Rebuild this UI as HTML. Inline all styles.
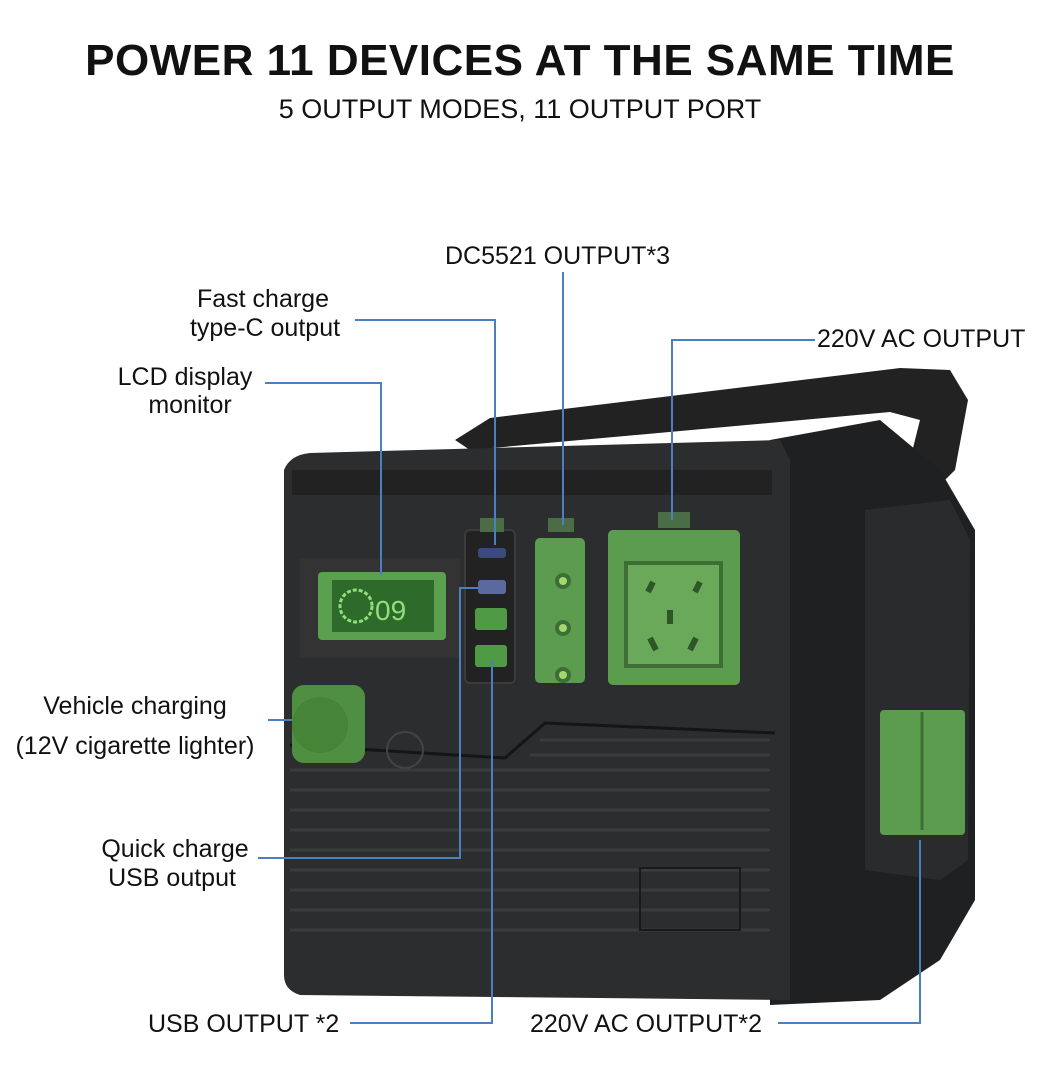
<!DOCTYPE html>
<html><head><meta charset="utf-8"><style>
html,body{margin:0;padding:0;background:#fff;}
body{width:1062px;height:1068px;overflow:hidden;position:relative;font-family:"Liberation Sans",sans-serif;}
.t{position:absolute;color:#111;white-space:nowrap;}
</style></head><body>
<div class="t" style="left:0;width:1040px;text-align:center;top:36px;font-size:44px;letter-spacing:0.5px;font-weight:bold;">POWER 11 DEVICES AT THE SAME TIME</div>
<div class="t" style="left:0;width:1040px;text-align:center;top:94px;font-size:27px;">5 OUTPUT MODES, 11 OUTPUT PORT</div>

<svg width="1062" height="1068" style="position:absolute;left:0;top:0" xmlns="http://www.w3.org/2000/svg">
 <!-- handle -->
 <path d="M455 440 L490 418 L900 368 L950 370 L968 400 L955 470 L925 500 L905 480 L920 420 L890 412 L470 450 Z" fill="#222"/>
 <!-- right side panel -->
 <path d="M770 440 L880 420 L940 470 L975 530 L975 900 L940 960 L880 1000 L770 1005 Z" fill="#1f2021"/>
 <path d="M865 510 L950 500 L970 540 L968 860 L940 880 L865 870 Z" fill="#2a2b2c"/>
 <!-- front body -->
 <path d="M284 470 Q290 455 310 453 L780 440 L790 460 L790 1000 L300 995 Q284 990 284 975 Z" fill="#2c2d2e"/>
 <rect x="292" y="470" width="480" height="25" fill="#222"/>
 <!-- stripes lower -->
 <g stroke="#3a3b3c" stroke-width="3">
  <line x1="290" y1="770" x2="770" y2="770"/><line x1="290" y1="790" x2="770" y2="790"/>
  <line x1="290" y1="810" x2="770" y2="810"/><line x1="290" y1="830" x2="770" y2="830"/>
  <line x1="290" y1="850" x2="770" y2="850"/><line x1="290" y1="870" x2="770" y2="870"/>
  <line x1="290" y1="890" x2="770" y2="890"/><line x1="290" y1="910" x2="770" y2="910"/>
  <line x1="290" y1="930" x2="770" y2="930"/><line x1="540" y1="740" x2="770" y2="740"/><line x1="530" y1="755" x2="770" y2="755"/>
 </g>
 <path d="M290 745 L505 758 L545 723 L775 733" stroke="#151515" stroke-width="3" fill="none"/>
 <rect x="640" y="868" width="100" height="62" fill="none" stroke="#1a1a1a" stroke-width="2"/>
 <!-- LCD -->
 <rect x="300" y="558" width="160" height="100" fill="#333"/>
 <rect x="318" y="572" width="128" height="68" rx="4" fill="#5aa04e"/>
 <rect x="332" y="580" width="102" height="52" fill="#2e6a2a"/>
 <circle cx="356" cy="606" r="16" fill="none" stroke="#8fe07a" stroke-width="3" stroke-dasharray="4 2"/>
 <text x="375" y="620" font-family="Liberation Sans" font-size="28" fill="#8fe07a">09</text>
 <!-- USB panel -->
 <rect x="465" y="530" width="50" height="153" rx="5" fill="#222" stroke="#3b3b3b" stroke-width="2"/>
 <rect x="480" y="518" width="24" height="14" fill="#4a6d45"/>
 <rect x="478" y="548" width="28" height="10" rx="3" fill="#3a4a7a"/>
 <rect x="478" y="580" width="28" height="14" rx="3" fill="#5a6aa0"/>
 <rect x="475" y="608" width="32" height="22" rx="3" fill="#4f9a45"/>
 <rect x="475" y="645" width="32" height="22" rx="3" fill="#4f9a45"/>
 <!-- DC panel -->
 <rect x="535" y="538" width="50" height="145" rx="5" fill="#5c9c4f"/>
 <rect x="548" y="518" width="26" height="14" fill="#4a6d45"/>
 <circle cx="563" cy="581" r="8" fill="#3d6e35"/><circle cx="563" cy="581" r="4" fill="#a3d870"/>
 <circle cx="563" cy="628" r="8" fill="#3d6e35"/><circle cx="563" cy="628" r="4" fill="#a3d870"/>
 <circle cx="563" cy="675" r="8" fill="#3d6e35"/><circle cx="563" cy="675" r="4" fill="#a3d870"/>
 <!-- AC socket -->
 <rect x="608" y="530" width="132" height="155" rx="5" fill="#5c9c4f"/>
 <rect x="658" y="512" width="32" height="16" fill="#4a6d45"/>
 <rect x="626" y="563" width="95" height="103" fill="#6aa85a" stroke="#3e6e34" stroke-width="4"/>
 <path d="M648 592 l5 -10 M695 592 l5 -10 M670 610 v14 M656 650 l-6 -12 M690 650 l6 -12" stroke="#2d5727" stroke-width="6"/>
 <!-- cigarette lighter -->
 <rect x="292" y="685" width="73" height="78" rx="12" fill="#4f8f42"/>
 <circle cx="320" cy="725" r="28" fill="#468438"/>
 <circle cx="405" cy="750" r="18" fill="none" stroke="#444" stroke-width="2"/>
 <!-- right outlets -->
 <rect x="880" y="710" width="85" height="125" rx="4" fill="#5c9c4f"/>
 <line x1="922" y1="712" x2="922" y2="830" stroke="#3e6e34" stroke-width="3"/>
 <!-- connectors -->
 <g stroke="#4a7fc1" stroke-width="2" fill="none">
  <path d="M563 272 V525"/>
  <path d="M815 340 H672 V520"/>
  <path d="M355 320 H495 V545"/>
  <path d="M265 383 H381 V575"/>
  <path d="M268 720 H292"/>
  <path d="M258 858 H460 V588 H478"/>
  <path d="M350 1023 H492 V660"/>
  <path d="M778 1023 H920 V840"/>
 </g>
 <g font-family="Liberation Sans" font-size="25" fill="#111">
  <text x="445" y="264">DC5521 OUTPUT*3</text>
  <text x="817" y="347">220V AC OUTPUT</text>
  <text x="263" y="307" text-anchor="middle">Fast charge</text>
  <text x="265" y="336" text-anchor="middle">type-C output</text>
  <text x="185" y="385" text-anchor="middle">LCD display</text>
  <text x="190" y="413" text-anchor="middle">monitor</text>
  <text x="135" y="714" text-anchor="middle">Vehicle charging</text>
  <text x="135" y="754" text-anchor="middle">(12V cigarette lighter)</text>
  <text x="175" y="857" text-anchor="middle">Quick charge</text>
  <text x="172" y="886" text-anchor="middle">USB output</text>
  <text x="148" y="1032">USB OUTPUT *2</text>
  <text x="530" y="1032">220V AC OUTPUT*2</text>
 </g>
</svg>
</body></html>
